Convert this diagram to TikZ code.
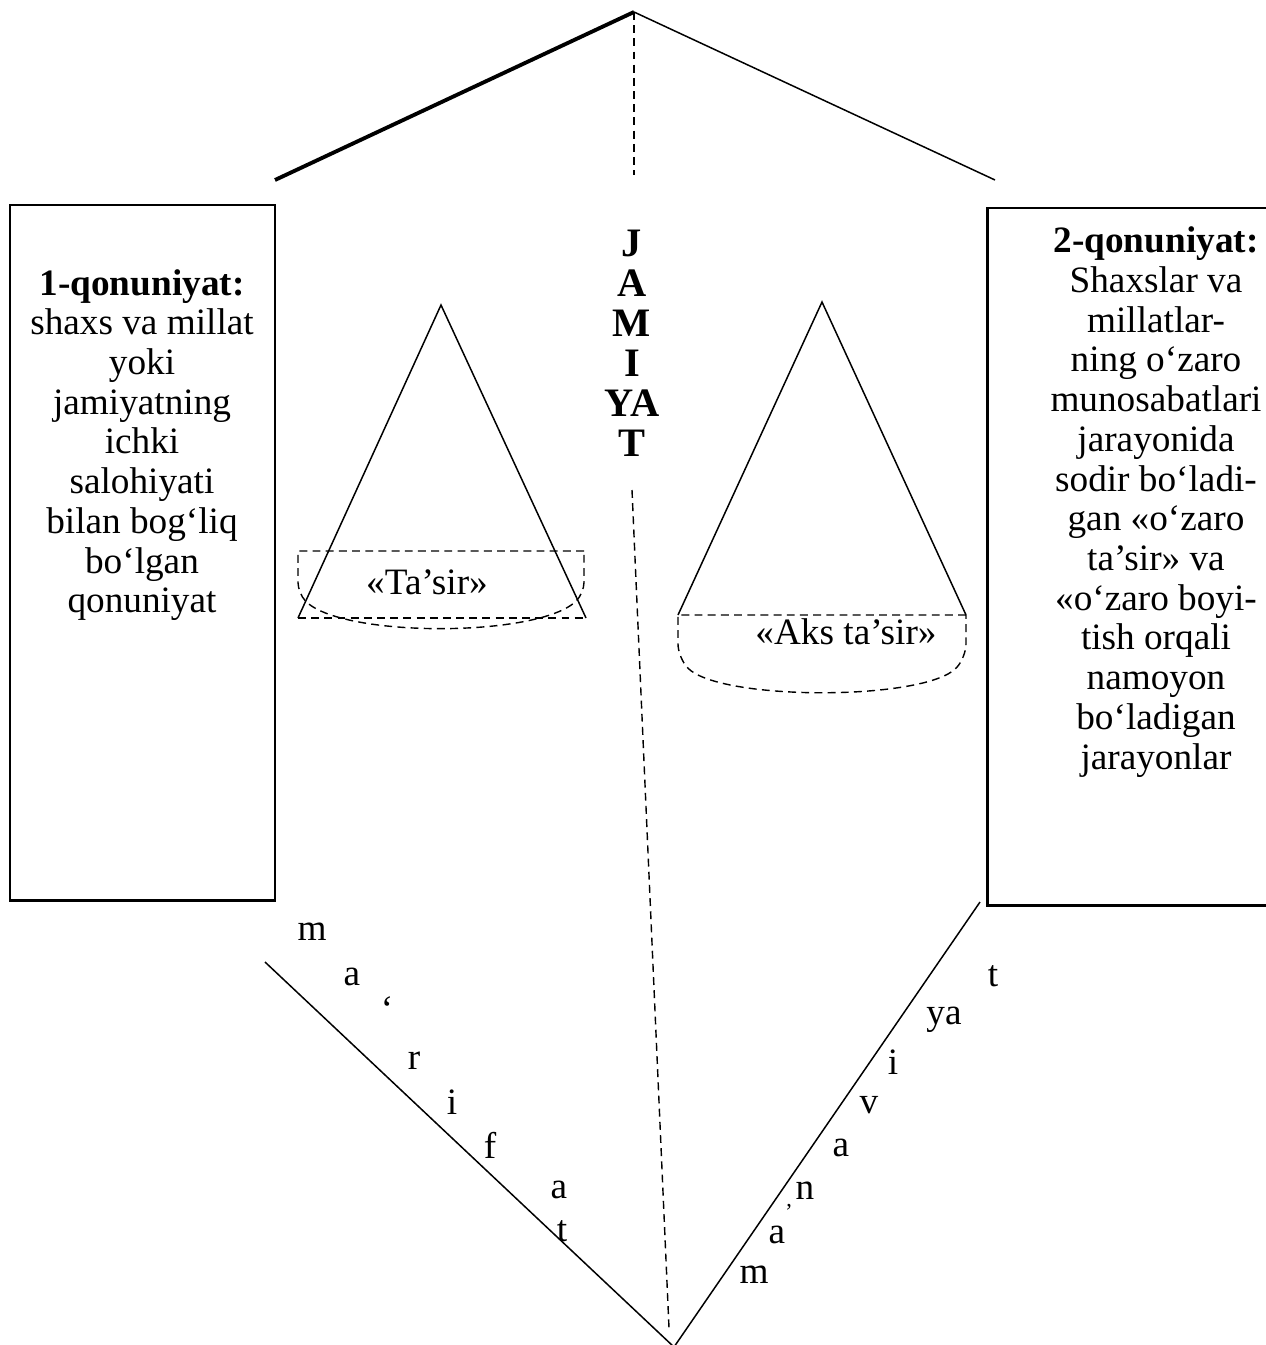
\documentclass[tikz,border=0pt]{standalone}
\usepackage{fontspec}
\setmainfont{Liberation Serif}
\usetikzlibrary{positioning,fit}
\tikzset{
  lawbox/.style={draw, line width=1.7pt, inner sep=0pt},
  lawtext/.style={align=center, inner sep=0pt},
  dash line/.style={dash pattern=on 4.5pt off 3pt, line width=0.8pt},
  thin line/.style={line width=0.85pt},
  letter/.style={inner sep=0pt}
}

\begin{document}
\begin{tikzpicture}[x=0.02cm, y=-0.02cm, font=\fontsize{21.2}{22.6}\selectfont]
\useasboundingbox (0,0) rectangle (1265,1345);
% Roof
\coordinate (apex) at (634,12);
\coordinate (roofL) at (275,180);
\coordinate (roofR) at (995,180);
\coordinate (roofM) at (634,175);
\draw[line width=2.2pt] (apex) -- (roofL);
\draw[thin line] (apex) -- (roofR);
\draw[dash line] (apex) -- (roofM);
% Left law
\node[lawbox, fit={(10,205) (275,900)}] (box1) {};
\node[lawtext] (law1) at (142,445) {\textbf{1-qonuniyat:}\\shaxs va millat\\yoki\\jamiyatning\\ichki\\salohiyati\\bilan bog‘liq\\bo‘lgan\\qonuniyat};
% Right law
\node[lawbox, fit={(987,208) (1285,905)}] (box2) {};
\node[lawtext] (law2) at (1156,502) {\textbf{2-qonuniyat:}\\Shaxslar va\\millatlar-\\ning o‘zaro\\munosabatlari\\jarayonida\\sodir bo‘ladi-\\gan «o‘zaro\\ta’sir» va\\«o‘zaro boyi-\\tish orqali\\namoyon\\bo‘ladigan\\jarayonlar};
% Society
\node[lawtext, font=\bfseries\fontsize{23}{22.8}\selectfont] (jam) at (632,343) {J\\A\\M\\I\\YA\\T};
\coordinate (midtop) at (632,490);
\coordinate (midbot) at (669,1328);
\draw[dash line] (midtop) -- (midbot);
% Left cone
\coordinate (c1T) at (441,305);
\coordinate (c1L) at (298,618);
\coordinate (c1R) at (586,618);
\draw[thin line] (c1L) -- (c1T) -- (c1R);
\draw[dash line] (584,551) -- (298,551) [rounded corners=6pt] -- (298,593) .. controls (340,638) and (540,638) .. (584,593) -- (584,551);
\draw[dash line] (c1L) -- (c1R);
\node[letter] (tasir) at (427,582) {«Ta’sir»};
% Right cone
\coordinate (c2T) at (822,302);
\coordinate (c2L) at (678,615);
\coordinate (c2R) at (966,615);
\draw[thin line] (c2L) -- (c2T) -- (c2R);
\draw[dash line] (c2R) -- (c2L) [rounded corners=8pt] -- (678,658) .. controls (720,701) and (924,701) .. (966,658) -- (c2R);
\node[letter] (akstasir) at (846,632) {«Aks ta’sir»};
% Bottom
\coordinate (vL) at (265,962);
\coordinate (vB) at (674,1347);
\coordinate (vR) at (980,902);
\draw[thin line] (vL) -- (vB) -- (vR);
\foreach \ch/\x/\y [count=\i] in {m/312/932, a/352/977, ‘/387/1009, r/414/1061, i/452/1102, f/490/1145, a/559/1190, t/562/1231}
  \node[letter] (mar\i) at (\x,\y) {\ch};
\foreach \ch/\x/\y [count=\i] in {t/993/976, ya/944/1020, i/893/1062, v/869/1105, a/841/1148, n/805/1191, a/777/1235, m/754/1275}
  \node[letter] (man\i) at (\x,\y) {\ch};
\node[letter, font=\fontsize{13}{14}\selectfont] (apos) at (789,1212) {’};
\end{tikzpicture}
\end{document}
